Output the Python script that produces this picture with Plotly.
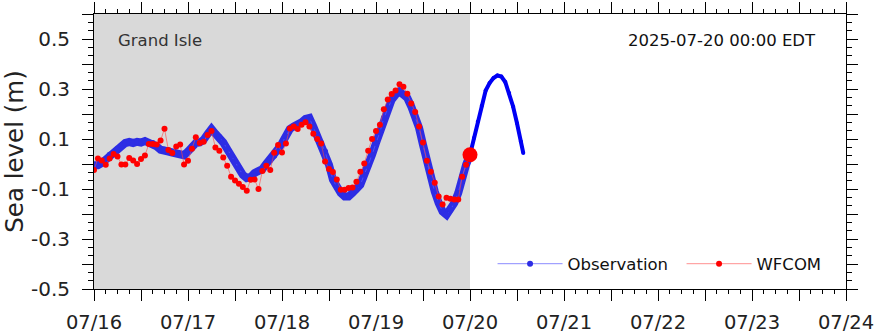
import pandas as pd
import plotly.graph_objects as go

# ---------------- data ----------------
base_time = "2025-07-16 00:00"
forecast_start = "2025-07-20 00:00"

# hourly model values (WFCOM), hours 0..96 after 07/16 00:00
wfcom_hours = list(range(0, 97))
wfcom_values = [
    -0.024, 0.022, 0.014, -0.003, 0.022, 0.040, 0.030, -0.002, -0.002, 0.024,
    0.014, 0.000, 0.020, 0.034, 0.080, 0.080, 0.078, 0.094, 0.141, 0.056,
    0.044, 0.070, 0.078, -0.002, 0.013, 0.061, 0.107, 0.084, 0.089, 0.116,
    0.132, 0.066, 0.053, 0.026, -0.007, -0.051, -0.066, -0.079, -0.092, -0.107,
    -0.063, -0.062, -0.100, -0.028, -0.007, -0.024, 0.045, 0.076, 0.046, 0.082,
    0.142, 0.150, 0.140, 0.157, 0.167, 0.150, 0.121, 0.100, 0.082, 0.010,
    -0.020, -0.032, -0.062, -0.103, -0.103, -0.096, -0.094, -0.071, -0.031, 0.002,
    0.053, 0.100, 0.132, 0.157, 0.219, 0.258, 0.280, 0.294, 0.319, 0.309,
    0.281, 0.242, 0.208, 0.150, 0.086, 0.013, -0.031, -0.075, -0.130, -0.162,
    -0.135, -0.139, -0.142, -0.142, -0.051, -0.003, 0.037,
]

# observations before 07/20 (hours 0..96)
obs_hours = list(range(0, 97))
obs_values = [
    -0.005, -0.005, 0.004, 0.017, 0.037, 0.046, 0.060, 0.073, 0.084, 0.088,
    0.084, 0.089, 0.086, 0.092, 0.086, 0.084, 0.070, 0.057, 0.057, 0.050,
    0.046, 0.041, 0.037, 0.035, 0.050, 0.070, 0.084, 0.086, 0.097, 0.120,
    0.140, 0.121, 0.108, 0.086, 0.060, 0.033, 0.010, -0.016, -0.043, -0.056,
    -0.052, -0.036, -0.029, -0.020, 0.001, 0.017, 0.033, 0.060, 0.083, 0.110,
    0.140, 0.150, 0.157, 0.167, 0.180, 0.184, 0.150, 0.110, 0.084, 0.050,
    -0.003, -0.063, -0.092, -0.116, -0.130, -0.130, -0.116, -0.103, -0.083, -0.043,
    -0.009, 0.037, 0.084, 0.127, 0.184, 0.224, 0.257, 0.277, 0.290, 0.277,
    0.264, 0.230, 0.190, 0.144, 0.077, 0.004, -0.056, -0.110, -0.156, -0.190,
    -0.203, -0.183, -0.156, -0.116, -0.050, -0.003, 0.037,
]

# observations after 07/20 00:00
obs2_hours = [96, 97, 98, 99, 100, 101, 102, 103, 104, 105, 106, 107, 108, 109, 109.6]
obs2_values = [0.037, 0.104, 0.170, 0.233, 0.294, 0.324, 0.344, 0.354, 0.350,
               0.328, 0.284, 0.230, 0.163, 0.090, 0.044]

# current value marker
now_value = [0.037]

# axis ticks
day_labels = ["07/16", "07/17", "07/18", "07/19", "07/20", "07/21", "07/22", "07/23", "07/24"]
y_tick_values = [-0.5, -0.4, -0.3, -0.2, -0.1, 0.0, 0.1, 0.2, 0.3, 0.4, 0.5, 0.6]
y_tick_labels = ["-0.5", "", "-0.3", "", "-0.1", "", "0.1", "", "0.3", "", "0.5", ""]

# ---------------- figure ----------------
t0 = pd.Timestamp(base_time)
to_time = lambda hrs: [t0 + pd.Timedelta(hours=h) for h in hrs]

FONT = "DejaVu Sans"
fig = go.Figure()

# hindcast shading
fig.add_vrect(x0=t0, x1=pd.Timestamp(forecast_start), fillcolor="#d9d9d9",
              line_width=0, layer="below")

# thick observation band
fig.add_trace(go.Scatter(x=to_time(obs_hours), y=obs_values, mode="lines",
                         line=dict(color="rgb(45,45,228)", width=8),
                         showlegend=False, hoverinfo="skip"))
fig.add_trace(go.Scatter(x=to_time(obs_hours), y=obs_values, mode="lines+markers",
                         name="Observation",
                         line=dict(color="rgba(90,90,255,0.7)", width=1),
                         marker=dict(color="rgb(45,45,228)", size=6)))
fig.add_trace(go.Scatter(x=to_time(obs2_hours), y=obs2_values, mode="lines+markers",
                         line=dict(color="rgb(0,0,245)", width=4),
                         marker=dict(color="rgb(0,0,245)", size=4),
                         showlegend=False))
fig.add_trace(go.Scatter(x=to_time(wfcom_hours), y=wfcom_values, mode="lines+markers",
                         name="WFCOM",
                         line=dict(color="rgba(255,70,70,0.6)", width=1),
                         marker=dict(color="red", size=6)))
fig.add_trace(go.Scatter(x=[pd.Timestamp(forecast_start)], y=now_value, mode="markers",
                         marker=dict(color="red", size=15), showlegend=False))

x_tick_vals = [t0 + pd.Timedelta(hours=12 * i) for i in range(17)]
x_tick_text = []
for i in range(17):
    x_tick_text.append(day_labels[i // 2] if i % 2 == 0 else "")

fig.update_xaxes(
    type="date", range=[t0, t0 + pd.Timedelta(days=8)], automargin=False,
    tickmode="array", tickvals=x_tick_vals, ticktext=x_tick_text,
    ticks="outside", ticklen=11, tickwidth=1, tickcolor="black",
    showline=True, linecolor="black", linewidth=1, mirror="ticks",
    showgrid=False, zeroline=False,
    tickfont=dict(family=FONT, size=19.5, color="#222"),
    ticklabelstandoff=5,
    minor=dict(dtick=3 * 3600 * 1000, tick0=t0, ticks="outside", ticklen=4,
               tickcolor="black", tickwidth=1, showgrid=False),
)
fig.update_yaxes(
    range=[-0.5, 0.6], automargin=False,
    tickmode="array", tickvals=y_tick_values, ticktext=y_tick_labels,
    ticks="outside", ticklen=11, tickwidth=1, tickcolor="black",
    showline=True, linecolor="black", linewidth=1, mirror="ticks",
    showgrid=False, zeroline=False,
    tickfont=dict(family=FONT, size=20, color="#222"),
    ticklabelstandoff=8,
    minor=dict(dtick=0.1 / 3, tick0=-0.5, ticks="outside", ticklen=5,
               tickcolor="black", tickwidth=1, showgrid=False),
    title=dict(text="Sea level (m)", font=dict(family=FONT, size=24.5, color="#222"),
               standoff=12),
)

fig.add_annotation(text="Grand Isle", xref="paper", yref="paper",
                   x=0.0293, y=0.905, xanchor="left", yanchor="middle",
                   showarrow=False, font=dict(family=FONT, size=16.5, color="#333"))
fig.add_annotation(text="2025-07-20 00:00 EDT", xref="paper", yref="paper",
                   x=0.9628, y=0.905, xanchor="right", yanchor="middle",
                   showarrow=False, font=dict(family=FONT, size=16.5, color="#111"))

fig.update_layout(
    width=877, height=334,
    margin=dict(l=94, r=31, t=14, b=45, autoexpand=False),
    paper_bgcolor="white", plot_bgcolor="white",
    showlegend=True,
    legend=dict(orientation="h", x=0.53, y=0.091, xanchor="left", yanchor="middle",
                bgcolor="rgba(0,0,0,0)", font=dict(family=FONT, size=16.5, color="#111"),
                itemwidth=65, entrywidth=109, entrywidthmode="pixels"),
)

fig.write_html("out.html")
